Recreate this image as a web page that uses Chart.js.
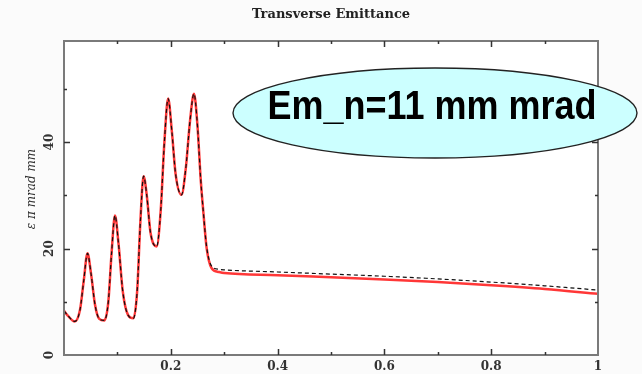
<!DOCTYPE html>
<html>
<head>
<meta charset="utf-8">
<script src="https://cdn.jsdelivr.net/npm/chart.js@4"></script>
<style>
  html, body { margin: 0; padding: 0; background: #fbfbfb; }
  canvas { display: block; }
</style>
</head>
<body>
<canvas id="emit" width="642" height="374"></canvas>
<script>
// position along beamline (normalised) and emittance values
const xs = [0, 0.008, 0.02, 0.03, 0.037, 0.044, 0.051, 0.058, 0.066, 0.0755,
  0.083, 0.089, 0.0955, 0.102, 0.11, 0.12, 0.13, 0.137, 0.143, 0.149,
  0.155, 0.162, 0.1735, 0.181, 0.188, 0.195, 0.202, 0.209, 0.22, 0.228,
  0.236, 0.2434, 0.25, 0.256, 0.261, 0.267, 0.2765, 0.29, 0.3, 0.4,
  0.5, 0.6, 0.7, 0.8, 0.9, 1.0];
const emitBlack = [8.3, 7.3, 6.3, 8.5, 14, 19.1, 15, 9.5, 6.8, 6.5,
  10, 19, 26.2, 21, 12, 7.5, 6.9, 12, 25, 33.6,
  30, 23, 20.4, 27, 40, 48.2, 42, 34, 30.1, 35,
  44, 49.1, 43, 33, 26.8, 20.4, 16.7, 16.1, 16.0, 15.6,
  15.2, 14.8, 14.3, 13.7, 13.0, 12.2];
const emitRed = [8.3, 7.3, 6.3, 8.5, 14, 19.1, 15, 9.5, 6.8, 6.5,
  10, 19, 26.2, 21, 12, 7.5, 6.9, 12, 25, 33.6,
  30, 23, 20.4, 27, 40, 48.2, 42, 34, 30.1, 35,
  44, 49.1, 43, 33, 26.8, 20.2, 16.3, 15.6, 15.4, 15.0,
  14.6, 14.2, 13.7, 13.1, 12.4, 11.5];

const xTicks = [0.2, 0.4, 0.6, 0.8, 1];
const xTickLabels = ["0.2", "0.4", "0.6", "0.8", "1"];
const xMinor = [0.1, 0.3, 0.5, 0.7, 0.9];
const yTicks = [0, 20, 40];
const yTickLabels = ["0", "20", "40"];
const yMinor = [10, 30, 50];

function pts(ys) {
  return xs.map((x, i) => ({ x: x, y: ys[i] }));
}

// frame, inward ticks, labels and the annotation ellipse
const decor = {
  id: "decor",
  beforeDraw(chart) {
    const { ctx, chartArea: a } = chart;
    ctx.save();
    ctx.fillStyle = "#ffffff";
    ctx.fillRect(a.left, a.top, a.right - a.left, a.bottom - a.top);
    ctx.restore();
  },
  afterDraw(chart) {
    const { ctx, chartArea: a } = chart;
    const sx = chart.scales.x, sy = chart.scales.y;
    ctx.save();

    ctx.strokeStyle = "#7a7a7a";
    ctx.lineWidth = 2;
    ctx.strokeRect(a.left, a.top, a.right - a.left, a.bottom - a.top);

    ctx.strokeStyle = "#333";
    ctx.lineWidth = 1.5;
    function tickX(v, len) {
      const p = Math.round(sx.getPixelForValue(v)) + 0.5;
      ctx.beginPath();
      ctx.moveTo(p, a.bottom); ctx.lineTo(p, a.bottom - len);
      ctx.moveTo(p, a.top); ctx.lineTo(p, a.top + len);
      ctx.stroke();
    }
    function tickY(v, len) {
      const p = Math.round(sy.getPixelForValue(v)) + 0.5;
      ctx.beginPath();
      ctx.moveTo(a.left, p); ctx.lineTo(a.left + len, p);
      ctx.moveTo(a.right, p); ctx.lineTo(a.right - len, p);
      ctx.stroke();
    }
    xTicks.forEach(v => { if (v < 1) tickX(v, 6); });
    xMinor.forEach(v => tickX(v, 3));
    yTicks.forEach(v => { if (v > 0) tickY(v, 6); });
    yMinor.forEach(v => tickY(v, 3));

    // tick labels
    ctx.fillStyle = "#333";
    ctx.font = "bold 12px 'DejaVu Serif'";
    ctx.textAlign = "center";
    ctx.textBaseline = "middle";
    xTicks.forEach((v, i) => {
      ctx.fillText(xTickLabels[i], sx.getPixelForValue(v), 367);
    });
    yTicks.forEach((v, i) => {
      ctx.save();
      ctx.translate(50, sy.getPixelForValue(v));
      ctx.rotate(-Math.PI / 2);
      ctx.fillText(yTickLabels[i], 0, 0);
      ctx.restore();
    });

    // axis title
    ctx.save();
    ctx.translate(32, 189);
    ctx.rotate(-Math.PI / 2);
    ctx.font = "italic 12px 'DejaVu Serif'";
    ctx.fillText("\u03b5 \u03c0 mrad mm", 0, 0);
    ctx.restore();

    // chart title
    ctx.fillStyle = "#222";
    ctx.font = "bold 13px 'DejaVu Serif'";
    ctx.fillText("Transverse Emittance", (a.left + a.right) / 2, 15);

    // annotation
    ctx.beginPath();
    ctx.ellipse(435, 113, 202, 45, 0, 0, Math.PI * 2);
    ctx.fillStyle = "#ccffff";
    ctx.fill();
    ctx.strokeStyle = "#222";
    ctx.lineWidth = 1.4;
    ctx.stroke();

    ctx.save();
    ctx.translate(432, 108);
    ctx.scale(1, 1.15);
    ctx.fillStyle = "#000";
    ctx.font = "bold 36px 'Liberation Sans'";
    ctx.fillText("Em_n=11 mm mrad", 0, 0);
    ctx.restore();

    ctx.restore();
  }
};

new Chart(document.getElementById("emit"), {
  type: "line",
  data: {
    datasets: [
      {
        label: "black",
        data: pts(emitBlack),
        borderColor: "#111",
        borderWidth: 1.2,
        borderDash: [4, 3],
        cubicInterpolationMode: "monotone",
        pointRadius: 0,
        fill: false
      },
      {
        label: "red",
        data: pts(emitRed),
        borderColor: "rgba(255,20,20,0.85)",
        borderWidth: 2.5,
        cubicInterpolationMode: "monotone",
        pointRadius: 0,
        fill: false
      }
    ]
  },
  options: {
    responsive: false,
    animation: false,
    devicePixelRatio: 1,
    layout: { padding: { left: 64, right: 44, top: 41, bottom: 19 } },
    scales: {
      x: { type: "linear", min: 0, max: 1, display: false },
      y: { type: "linear", min: 0, max: 59, display: false }
    },
    plugins: {
      legend: { display: false },
      tooltip: { enabled: false },
      title: { display: false }
    }
  },
  plugins: [decor]
});
</script>
</body>
</html>
